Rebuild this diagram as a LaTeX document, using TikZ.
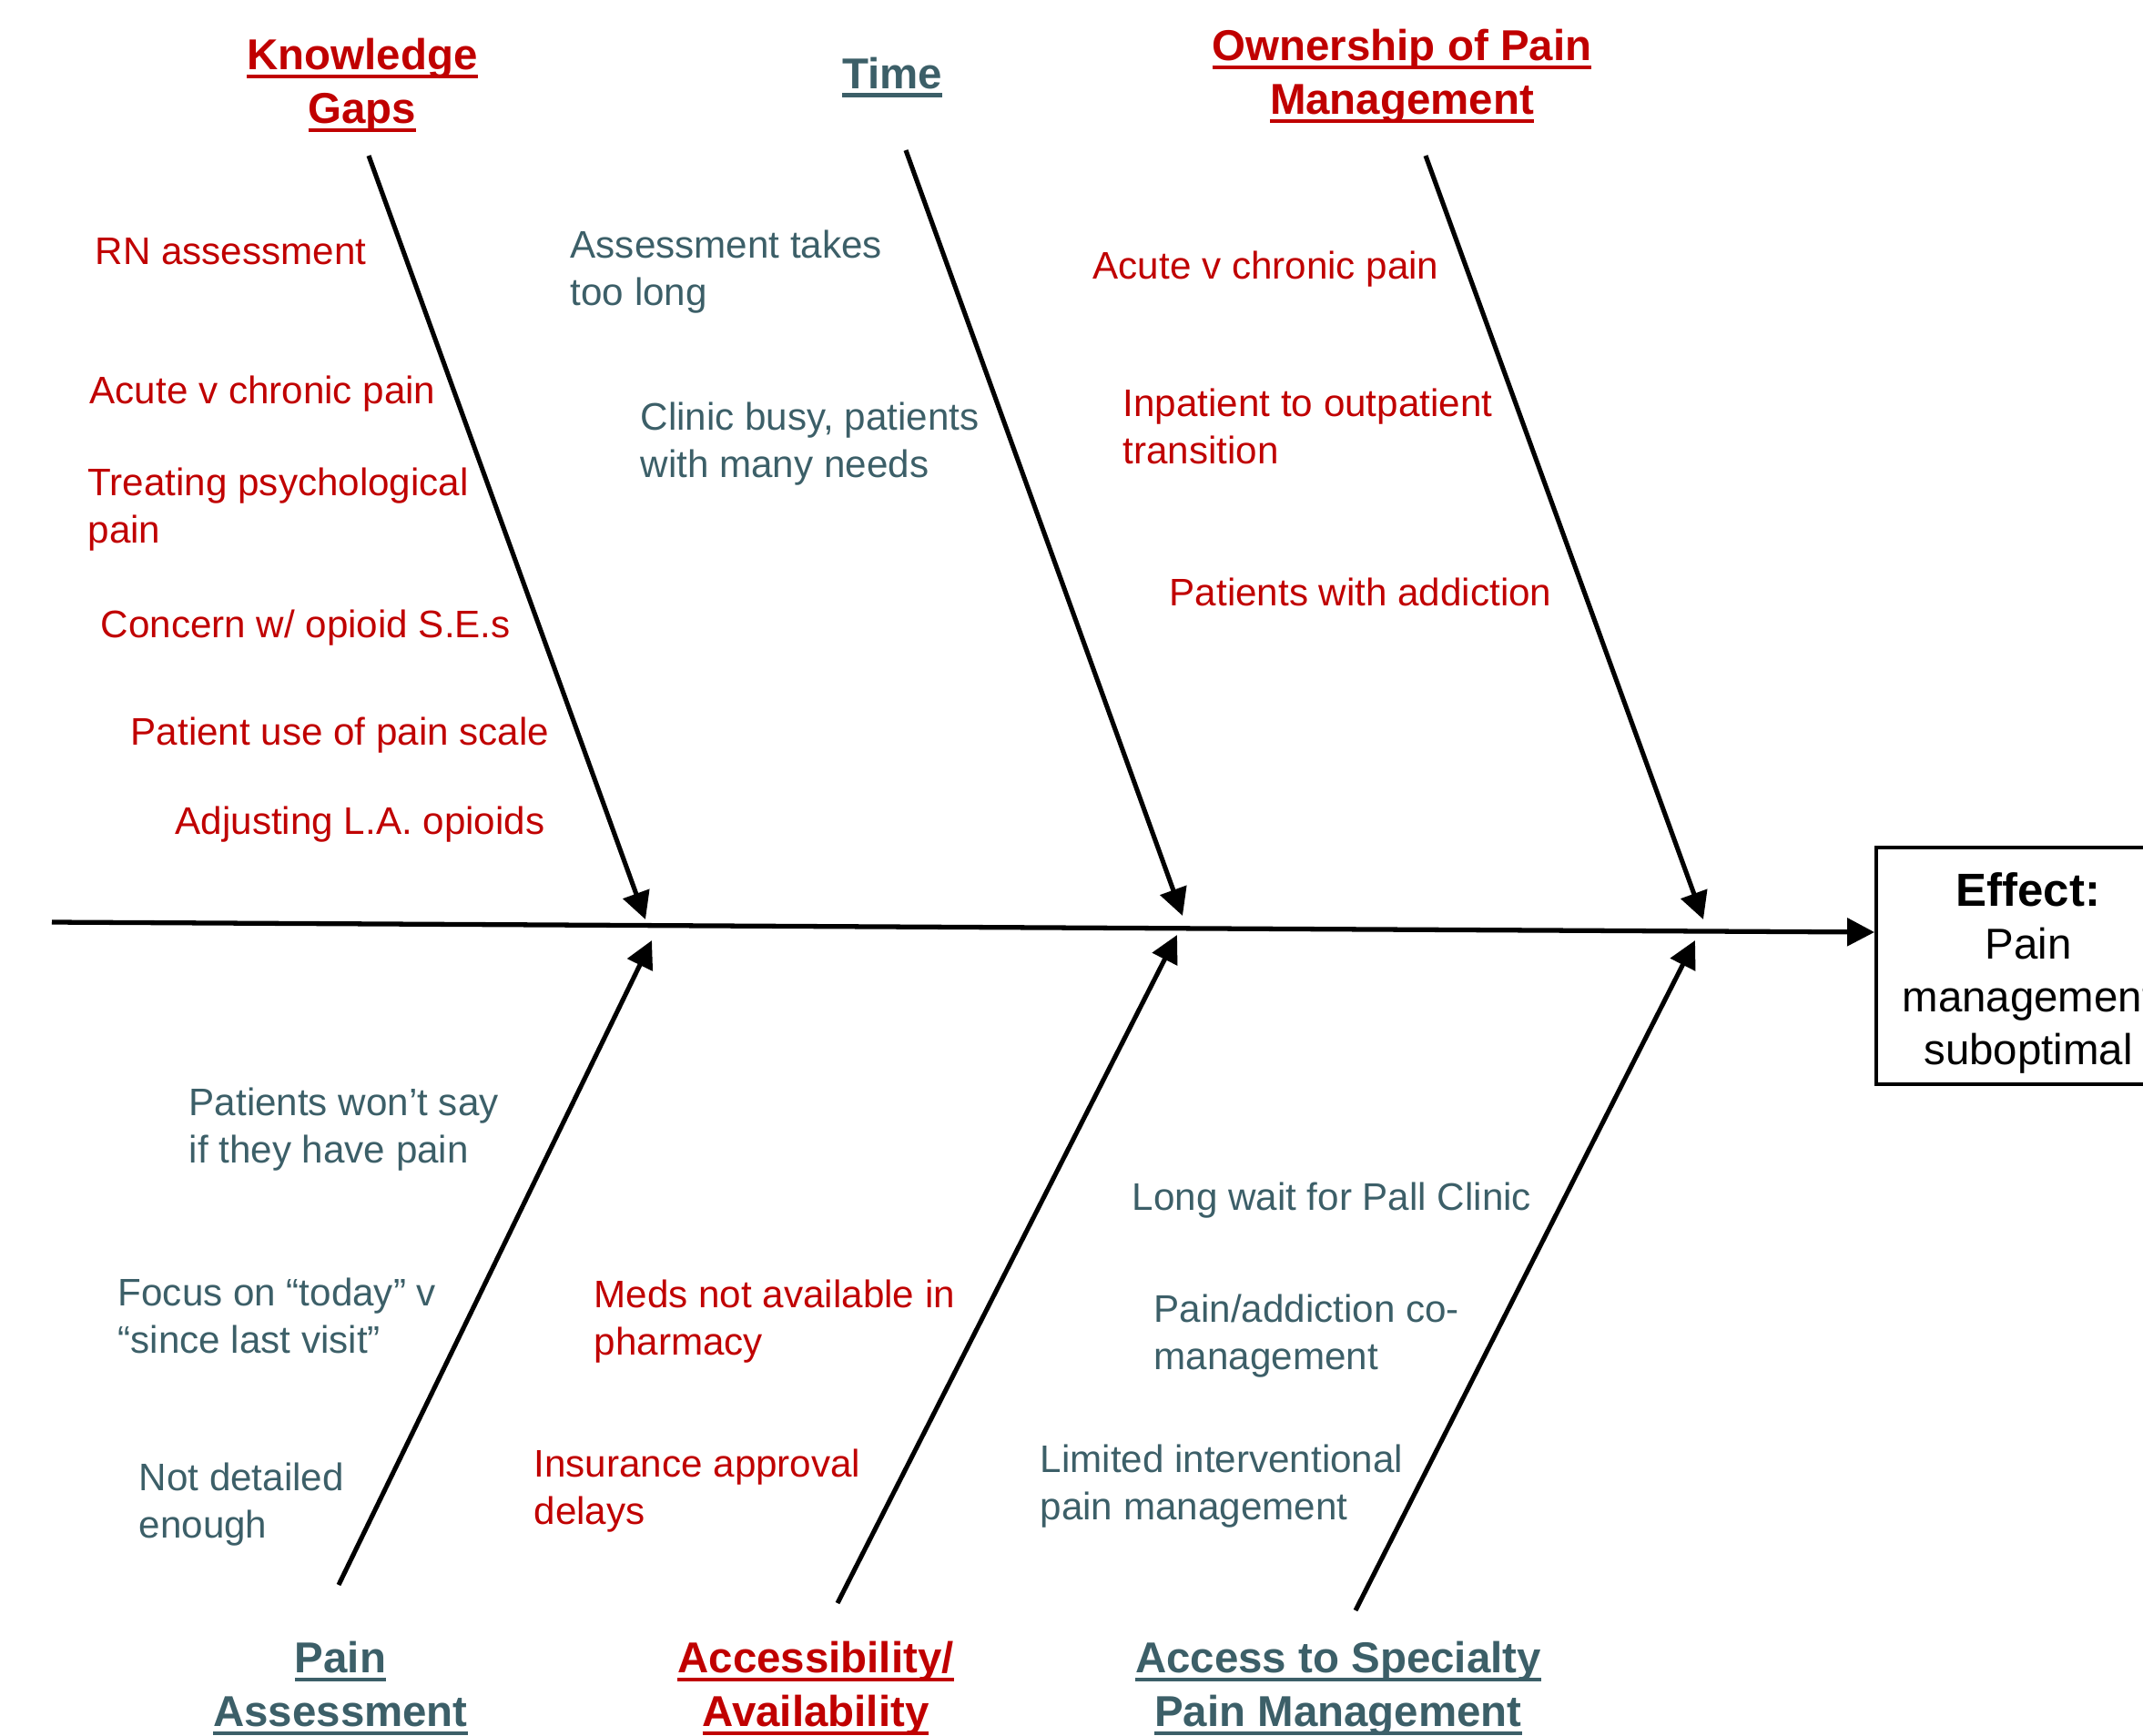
\documentclass[tikz,border=0pt]{standalone}
\usepackage{fontspec}
\setmainfont{Liberation Sans}
\usetikzlibrary{arrows.meta}
\definecolor{causeRed}{HTML}{C00000}
\definecolor{causeTeal}{HTML}{3C5F68}
\newcommand{\ulhead}[1]{\setbox0\hbox{#1}\rlap{\rule[-2.7pt]{\wd0}{1.3pt}}\box0}

\begin{document}
\begin{tikzpicture}[
  y=-1cm,
  title/.style={font=\fontsize{13.5}{16.8}\selectfont\bfseries,align=center,inner sep=0pt,yshift=-0.5mm},
  cause/.style={font=\fontsize{12}{14.6}\selectfont,align=left,anchor=west,inner sep=0pt,yshift=-0.45mm},
  bone/.style={-{Triangle[length=3mm,width=3mm]},line width=1.45pt}
]
\clip (0,0) rectangle (23.54,19.07);
% effect and spine
\node[draw,line width=1.1pt,minimum width=3.34cm,minimum height=2.6cm] (effect) at (22.28,10.61) {};
\node[align=center,inner sep=0pt,font=\fontsize{13.5}{16.5}\selectfont] (effectText)
  at ([yshift=-0.8mm]effect.center)
  {{\fontsize{14.5}{17}\selectfont\bfseries Effect:}\\Pain\\management\\suboptimal};
\coordinate (tail) at (0.57,10.13);
\draw[bone,line width=1.5pt] (tail) -- ([yshift=3.7mm]effect.west);
% category titles
\node[title,text=causeRed] (kg) at (3.98,0.89) {\ulhead{Knowledge}\\\ulhead{Gaps}};
\node[title,text=causeTeal] (tm) at (9.80,0.80) {\ulhead{Time}};
\node[title,text=causeRed] (ow) at (15.40,0.79) {\ulhead{Ownership of Pain}\\\ulhead{Management}};
\node[title,text=causeTeal] (pa) at (3.74,18.50) {\ulhead{Pain}\\\ulhead{Assessment}};
\node[title,text=causeRed] (av) at (8.96,18.50) {\ulhead{Accessibility/}\\\ulhead{Availability}};
\node[title,text=causeTeal] (sp) at (14.70,18.50) {\ulhead{Access to Specialty}\\\ulhead{Pain Management}};
% bones
\coordinate (kgTop) at (4.05,1.71);  \coordinate (kgTip) at (7.09,10.10);
\coordinate (tmTop) at (9.95,1.65);  \coordinate (tmTip) at (12.99,10.06);
\coordinate (owTop) at (15.66,1.71); \coordinate (owTip) at (18.71,10.10);
\coordinate (paTop) at (3.72,17.41); \coordinate (paTip) at (7.16,10.33);
\coordinate (avTop) at (9.20,17.61); \coordinate (avTip) at (12.93,10.27);
\coordinate (spTop) at (14.89,17.69);\coordinate (spTip) at (18.62,10.33);
\draw[bone] (kgTop) -- (kgTip);
\draw[bone] (tmTop) -- (tmTip);
\draw[bone] (owTop) -- (owTip);
\draw[bone] (paTop) -- (paTip);
\draw[bone] (avTop) -- (avTip);
\draw[bone] (spTop) -- (spTip);
% knowledge gaps
\node[cause,text=causeRed] (kg1) at (1.04,2.72) {RN assessment};
\node[cause,text=causeRed] (kg2) at (0.98,4.28) {Acute v chronic pain};
\node[cause,text=causeRed] (kg3) at (0.96,5.55) {Treating psychological\\pain};
\node[cause,text=causeRed] (kg4) at (1.10,6.85) {Concern w/ opioid S.E.s};
\node[cause,text=causeRed] (kg5) at (1.43,8.03) {Patient use of pain scale};
\node[cause,text=causeRed] (kg6) at (1.92,9.01) {Adjusting L.A. opioids};
% time
\node[cause,text=causeTeal] (tm1) at (6.26,2.94) {Assessment takes\\too long};
\node[cause,text=causeTeal] (tm2) at (7.03,4.83) {Clinic busy, patients\\with many needs};
% ownership
\node[cause,text=causeRed] (ow1) at (12.00,2.91) {Acute v chronic pain};
\node[cause,text=causeRed] (ow2) at (12.33,4.64) {Inpatient to outpatient\\transition};
\node[cause,text=causeRed] (ow3) at (12.84,6.46) {Patients with addiction};
% pain assessment
\node[cause,text=causeTeal] (pa1) at (2.07,12.36) {Patients won’t say\\if they have pain};
\node[cause,text=causeTeal] (pa2) at (1.29,14.41) {Focus on “today” v\\“since last visit”};
\node[cause,text=causeTeal] (pa3) at (1.52,16.48) {Not detailed\\enough};
% accessibility
\node[cause,text=causeRed] (av1) at (6.52,14.47) {Meds not available in\\pharmacy};
\node[cause,text=causeRed] (av2) at (5.86,16.33) {Insurance approval\\delays};
% specialty access
\node[cause,text=causeTeal] (sp1) at (12.43,13.14) {Long wait for Pall Clinic};
\node[cause,text=causeTeal] (sp2) at (12.67,14.63) {Pain/addiction co-\\management};
\node[cause,text=causeTeal] (sp3) at (11.42,16.28) {Limited interventional\\pain management};
\end{tikzpicture}
\end{document}
